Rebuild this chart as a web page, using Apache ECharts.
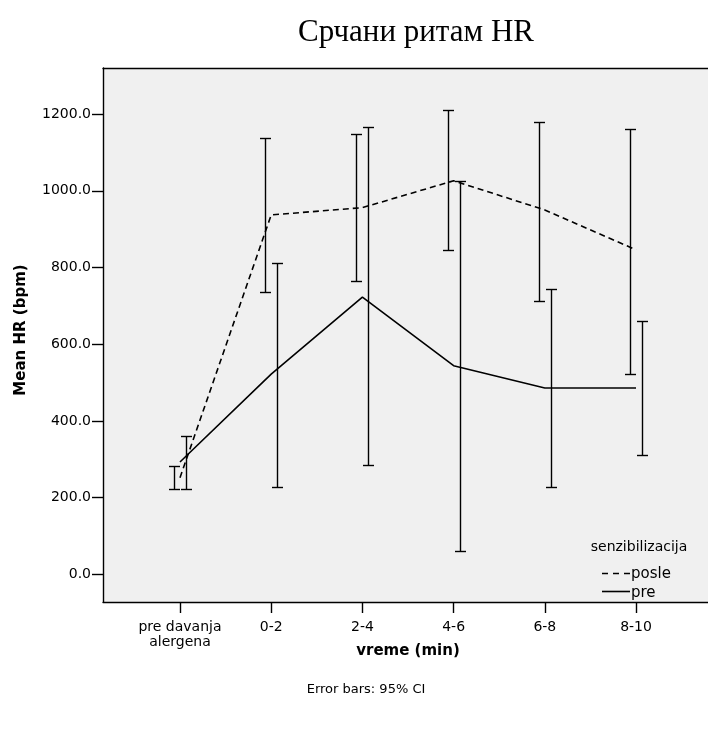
<!DOCTYPE html>
<html>
<head>
<meta charset="utf-8">
<script src="https://cdn.jsdelivr.net/npm/echarts@6/dist/echarts.min.js"></script>
<style>html,body{margin:0;padding:0;background:#fff;}#c{width:708px;height:729px;}</style>
</head>
<body>
<div id="c"></div>
<script>
const categories = ['pre davanja\nalergena', '0-2', '2-4', '4-6', '6-8', '8-10'];
const posleMean = [252, 937, 956, 1026, 950, 846];
const posleLow  = [222, 736, 765, 846, 713, 523];
const posleHigh = [283, 1137, 1147, 1210, 1179, 1160];
const preMean = [293, 522, 723, 544, 486, 486];
const preLow  = [222, 228, 285, 61, 228, 311];
const preHigh = [361, 812, 1165, 1026, 744, 661];
const yTicks = [0, 200, 400, 600, 800, 1000, 1200];
const xTicks = categories.map((c, i) => i);
const legendTitle = 'senzibilizacija';
const seriesNames = ['posle', 'pre'];

const chart = echarts.init(document.getElementById('c'), null, {renderer: 'canvas'});
const sans = '"DejaVu Sans", "Liberation Sans", Arial, sans-serif';
const axisLineStyle = {color: '#000', width: 1.4};

function errRender(offset) {
  return function (params, api) {
    const x = api.value(0);
    const lo = api.coord([x, api.value(1)]);
    const hi = api.coord([x, api.value(2)]);
    const px = Math.round(lo[0] + offset) + 0.5;
    const y1 = Math.round(lo[1]) + 0.5, y2 = Math.round(hi[1]) + 0.5;
    const st = {stroke: '#000', lineWidth: 1.4};
    return {
      type: 'group',
      children: [
        {type: 'line', shape: {x1: px, y1: y1, x2: px, y2: y2}, style: st},
        {type: 'line', shape: {x1: px - 5.5, y1: y1, x2: px + 5.5, y2: y1}, style: st},
        {type: 'line', shape: {x1: px - 5.5, y1: y2, x2: px + 5.5, y2: y2}, style: st}
      ]
    };
  };
}

const option = {
  animation: false,
  backgroundColor: '#fff',
  title: {
    text: 'Срчани ритам HR',
    left: 411, top: 12, textAlign: 'center',
    textStyle: {fontFamily: '"Liberation Serif", "Times New Roman", serif', fontSize: 31, fontWeight: 'normal', color: '#000'}
  },
  grid: {
    left: 103, top: 68, right: 0, bottom: 127,
    show: true, backgroundColor: '#f0f0f0', borderWidth: 0,
    containLabel: false
  },
  xAxis: [{
    type: 'value', min: -0.844, max: 5.789, position: 'bottom',
    axisLine: {show: true, onZero: false, lineStyle: axisLineStyle},
    axisTick: {show: true, length: 11, customValues: xTicks, lineStyle: axisLineStyle},
    axisLabel: {
      customValues: xTicks, margin: 18,
      formatter: v => categories[Math.round(v)],
      fontFamily: sans, fontSize: 14, color: '#000', lineHeight: 15
    },
    splitLine: {show: false}
  }, {
    type: 'value', min: -0.844, max: 5.789, position: 'top',
    axisLine: {show: true, onZero: false, lineStyle: axisLineStyle},
    axisTick: {show: false}, axisLabel: {show: false}, splitLine: {show: false}
  }],
  yAxis: {
    type: 'value', min: -72, max: 1320,
    axisLine: {show: true, onZero: false, lineStyle: axisLineStyle},
    axisTick: {show: true, length: 11, customValues: yTicks, lineStyle: axisLineStyle},
    axisLabel: {
      customValues: yTicks, margin: 12,
      formatter: v => v.toFixed(1),
      fontFamily: sans, fontSize: 14, color: '#000'
    },
    splitLine: {show: false}
  },
  graphic: [
    {type: 'text', x: 639, y: 547, style: {text: legendTitle, font: '14px ' + sans, fill: '#000', align: 'center', verticalAlign: 'middle'}},
    {type: 'line', shape: {x1: 602, y1: 573.5, x2: 630, y2: 573.5}, style: {stroke: '#000', lineWidth: 1.6, lineDash: [6, 5]}},
    {type: 'text', x: 631, y: 574, style: {text: seriesNames[0], font: '15px ' + sans, fill: '#000', verticalAlign: 'middle'}},
    {type: 'line', shape: {x1: 602, y1: 591.5, x2: 630, y2: 591.5}, style: {stroke: '#000', lineWidth: 1.6}},
    {type: 'text', x: 631, y: 593, style: {text: seriesNames[1], font: '15px ' + sans, fill: '#000', verticalAlign: 'middle'}},
    {type: 'text', x: 21, y: 330, rotation: Math.PI / 2, style: {text: 'Mean HR (bpm)', font: 'bold 15px ' + sans, fill: '#000', align: 'center', verticalAlign: 'middle'}},
    {type: 'text', x: 408, y: 651, style: {text: 'vreme (min)', font: 'bold 15px ' + sans, fill: '#000', align: 'center', verticalAlign: 'middle'}},
    {type: 'text', x: 366, y: 690, style: {text: 'Error bars: 95% CI', font: '13px ' + sans, fill: '#000', align: 'center', verticalAlign: 'middle'}}
  ],
  series: [
    {
      name: seriesNames[0], type: 'line', showSymbol: false, symbol: 'none',
      data: posleMean.map((v, i) => [i, v]),
      lineStyle: {color: '#000', width: 1.6, type: [6, 4]},
      itemStyle: {color: '#000'}, z: 3
    },
    {
      name: seriesNames[1], type: 'line', showSymbol: false, symbol: 'none',
      data: preMean.map((v, i) => [i, v]),
      lineStyle: {color: '#000', width: 1.6, type: 'solid'},
      itemStyle: {color: '#000'}, z: 3
    },
    {
      name: 'posleCI', type: 'custom', renderItem: errRender(-6),
      data: posleLow.map((v, i) => [i, v, posleHigh[i]]), z: 4
    },
    {
      name: 'preCI', type: 'custom', renderItem: errRender(6),
      data: preLow.map((v, i) => [i, v, preHigh[i]]), z: 4
    }
  ]
};
chart.setOption(option);
</script>
</body>
</html>
